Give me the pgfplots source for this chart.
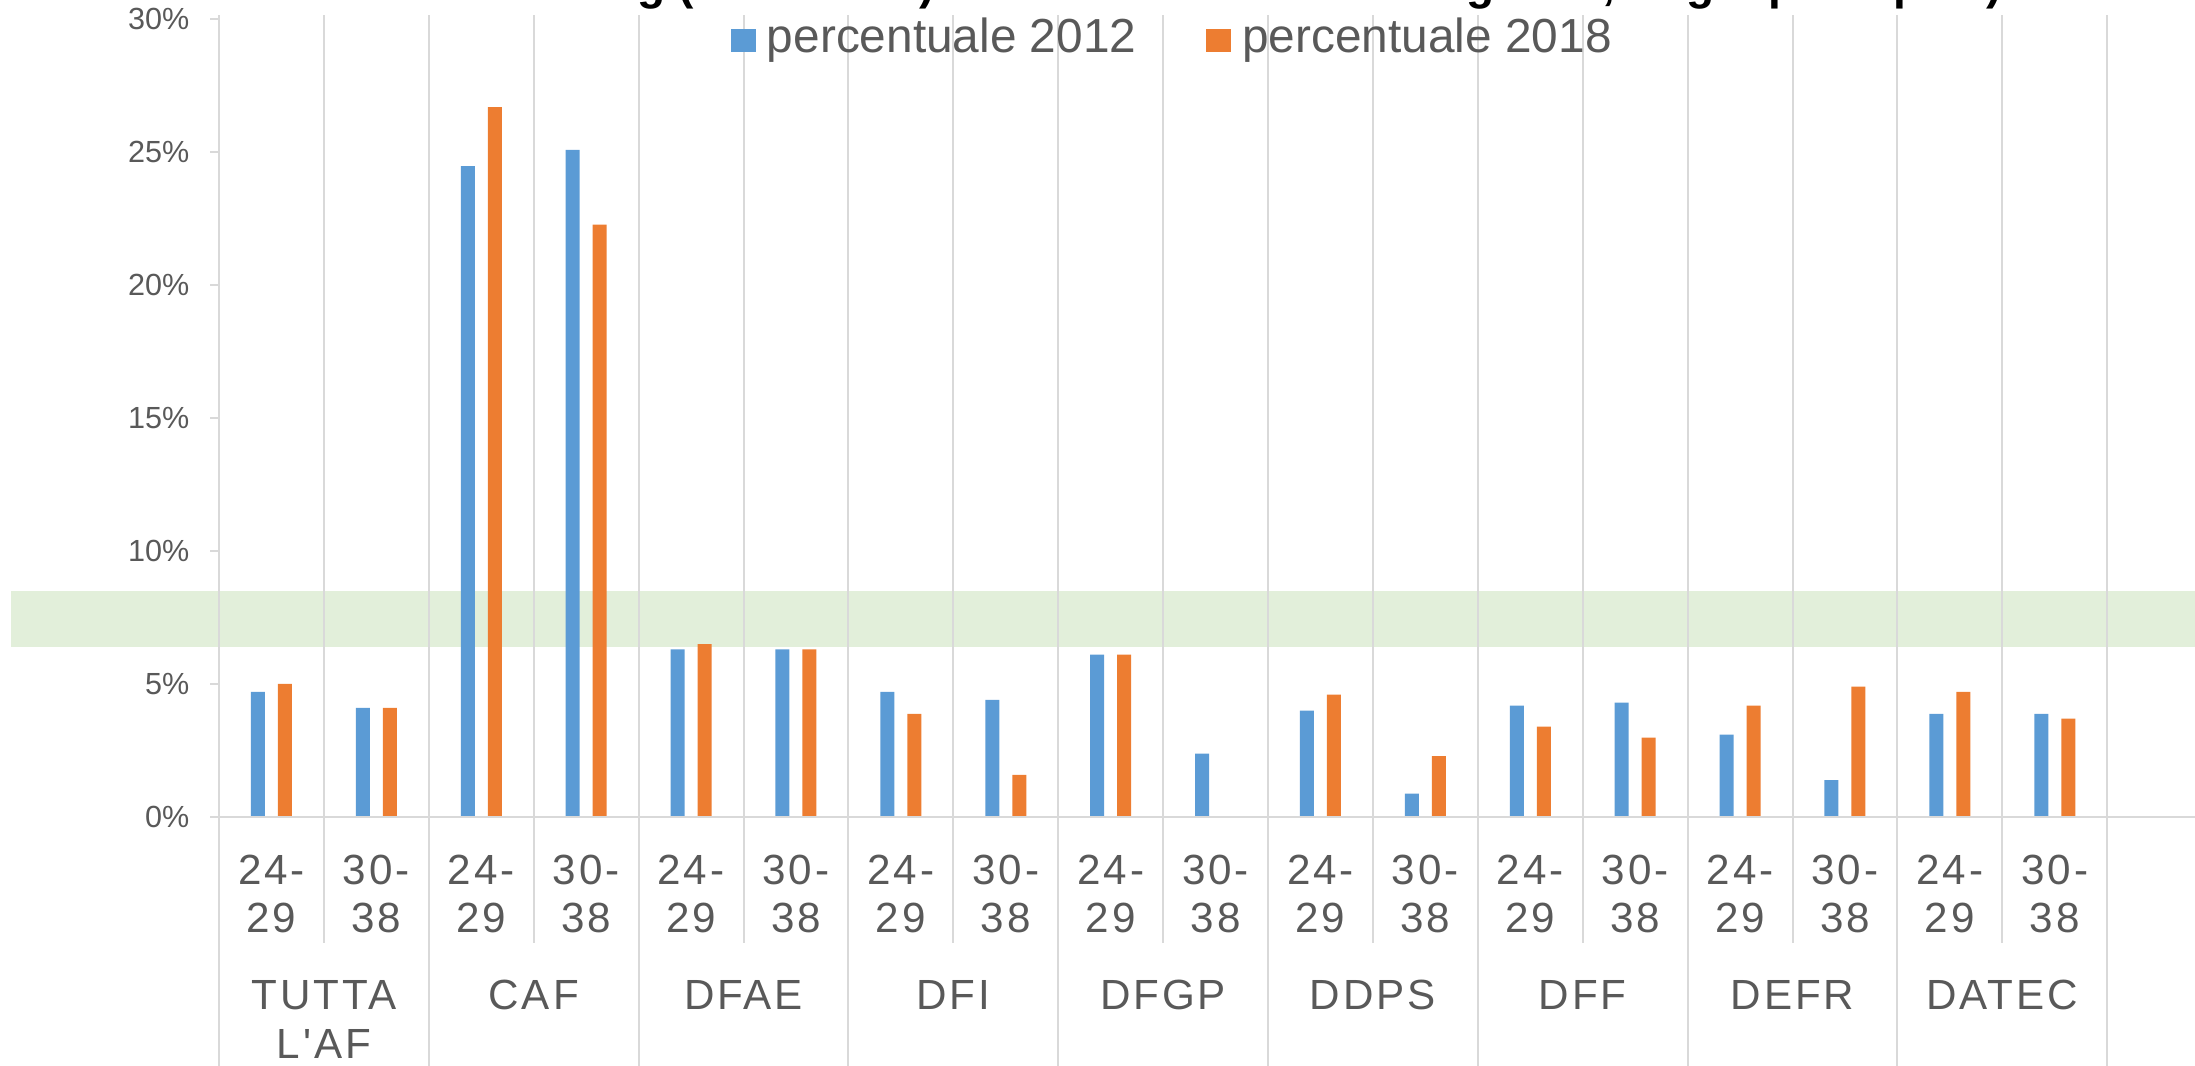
\documentclass[border=0pt]{standalone}
\usepackage{fontspec}
\setmainfont{Liberation Sans}
\newfontfamily\lsfont{Liberation Sans}[LetterSpace=7]
\usepackage{pgfplots}
\pgfplotsset{compat=1.18}
\definecolor{c2012}{HTML}{5B9BD5}
\definecolor{c2018}{HTML}{ED7D31}
\definecolor{band}{HTML}{E2EFDA}
\definecolor{gridc}{HTML}{D9D9D9}
\definecolor{txt}{HTML}{595959}
\tikzset{agel/.style={font=\lsfont\fontsize{12}{13.7}\selectfont, text=txt, anchor=base, inner sep=0pt}}
\begin{document}
\begin{tikzpicture}
\fill[band] (1.1mm,41.9mm) rectangle (219.5mm,47.5mm);
\node[anchor=base west, inner sep=0pt, font=\bfseries\fontsize{13.1}{15}\selectfont] at (12.2mm,106.6mm)
  {Turnover: benchmarking (24-38 anni) nelle unità e banda di legenda, target principale)};
\begin{axis}[
  at={(21.9mm,24.9mm)}, anchor=south west,
  scale only axis, width=197.6mm, height=79.8mm,
  xmin=0, xmax=18.837, ymin=0, ymax=30,
  enlargelimits=false, clip=false,
  axis lines*=left, axis line style={draw=none},
  xtick=\empty,
  ytick={0,5,...,30}, yticklabels={0\%,5\%,10\%,15\%,20\%,25\%,30\%},
  tick align=outside, major tick length=0.9mm,
  ytick style={draw=gridc, line width=0.2mm},
  yticklabel style={font=\fontsize{8.7}{10}\selectfont, text=txt, inner sep=0pt, xshift=-2.0mm},
  ybar=1.3mm, bar width=1.4mm,
  legend columns=2,
  legend style={at={(axis description cs:0.2591,0.9766)}, anchor=west,
    draw=none, fill=none, inner sep=0pt, outer sep=0pt,
    font=\fontsize{13.6}{15}\selectfont, text=txt,
    nodes={inner sep=0pt, outer sep=0pt},
    /tikz/every odd column/.style={column sep=1.1mm},
    /tikz/every even column/.style={column sep=7mm}},
  legend image code/.code={\fill[#1] (0mm,-1.4mm) rectangle (2.5mm,0.9mm);},
]
\pgfplotsinvokeforeach{0,...,18}{
  \draw[gridc, line width=0.2mm] (axis cs:#1,0) -- (axis cs:#1,30.15);
}
\addplot[fill=c2012, draw=none] coordinates {
 (0.5,4.7) (1.5,4.1) (2.5,24.47) (3.5,25.08) (4.5,6.3) (5.5,6.3)
 (6.5,4.7) (7.5,4.4) (8.5,6.1) (9.5,2.38) (10.5,4.0) (11.5,0.88)
 (12.5,4.19) (13.5,4.3) (14.5,3.1) (15.5,1.39) (16.5,3.88) (17.5,3.88)};
\addlegendentry{percentuale 2012}
\addplot[fill=c2018, draw=none] coordinates {
 (0.5,5.0) (1.5,4.1) (2.5,26.69) (3.5,22.27) (4.5,6.5) (5.5,6.3)
 (6.5,3.88) (7.5,1.58) (8.5,6.1) (9.5,0) (10.5,4.6) (11.5,2.29)
 (12.5,3.4) (13.5,2.98) (14.5,4.19) (15.5,4.9) (16.5,4.7) (17.5,3.7)};
\addlegendentry{percentuale 2018}
\draw[gridc, line width=0.25mm] ([xshift=-0.9mm]axis cs:0,0) -- (axis cs:19,0);
\pgfplotsinvokeforeach{0,2,4,6,8,10,12,14,16}{
  \node[agel, yshift=-6.8mm] at (axis cs:#1+0.5,0) {24-};
  \node[agel, yshift=-11.6mm] at (axis cs:#1+0.5,0) {29};
  \node[agel, yshift=-6.8mm] at (axis cs:#1+1.5,0) {30-};
  \node[agel, yshift=-11.6mm] at (axis cs:#1+1.5,0) {38};
  \draw[gridc, line width=0.2mm] (axis cs:#1,0) -- ++(0,-25mm);
  \draw[gridc, line width=0.2mm] (axis cs:#1+1,0) -- ++(0,-12.6mm);
}
\draw[gridc, line width=0.2mm] (axis cs:18,0) -- ++(0,-25mm);
\node[agel, yshift=-19.3mm] at (axis cs:1,0) {TUTTA};
\node[agel, yshift=-24.1mm] at (axis cs:1,0) {L'AF};
\node[agel, yshift=-19.3mm] at (axis cs:3,0) {CAF};
\node[agel, yshift=-19.3mm] at (axis cs:5,0) {DFAE};
\node[agel, yshift=-19.3mm] at (axis cs:7,0) {DFI};
\node[agel, yshift=-19.3mm] at (axis cs:9,0) {DFGP};
\node[agel, yshift=-19.3mm] at (axis cs:11,0) {DDPS};
\node[agel, yshift=-19.3mm] at (axis cs:13,0) {DFF};
\node[agel, yshift=-19.3mm] at (axis cs:15,0) {DEFR};
\node[agel, yshift=-19.3mm] at (axis cs:17,0) {DATEC};
\end{axis}
\pgfresetboundingbox
\path[use as bounding box] (0,0) rectangle (219.5mm,106.6mm);
\end{tikzpicture}
\end{document}
